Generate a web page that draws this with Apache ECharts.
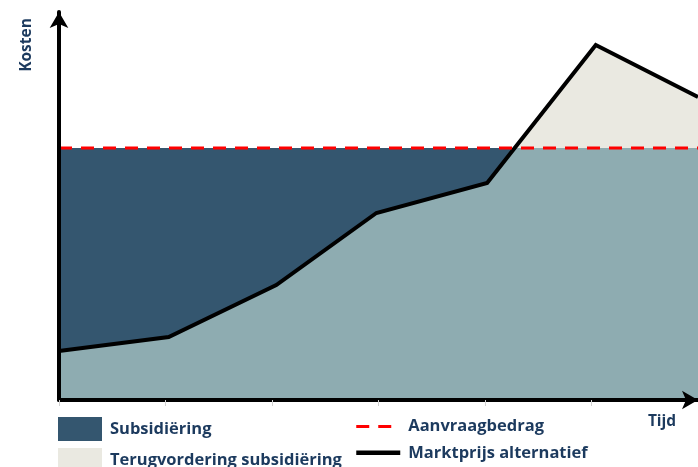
<!DOCTYPE html>
<html>
<head>
<meta charset="utf-8">
<script src="https://cdn.jsdelivr.net/npm/echarts@6/dist/echarts.min.js"></script>
<style>
  html, body { margin: 0; padding: 0; background: #fff; }
  #chart { width: 698px; height: 467px; }
</style>
</head>
<body>
<div id="chart"></div>
<script>
// time points and market price of the alternative (arbitrary units)
var tijd = [0, 1.03, 2.04, 2.98, 4.02, 5.04, 6];
var marktprijs = [49, 63, 115, 187, 217, 355, 303];
// requested amount (flat)
var aanvraagTijd = [0, 6];
var aanvraagbedrag = [252, 252];

var navy = '#1c3a5e';
var font = 'Open Sans';
var noSymbol = { color: 'rgba(0,0,0,0)', borderWidth: 0, opacity: 0 };

function pairs(xs, ys) {
  var out = [];
  for (var i = 0; i < xs.length; i++) out.push([xs[i], ys[i]]);
  return out;
}

var chart = echarts.init(document.getElementById('chart'));

var options = {
  backgroundColor: '#fff',
  animation: false,
  grid: { left: 59, right: 0, top: 12, bottom: 67 },
  xAxis: {
    type: 'value',
    min: 0,
    max: 6,
    interval: 1,
    z: 10,
    axisLine: {
      show: true,
      lineStyle: { color: '#000', width: 4 },
      symbol: ['none', 'arrow'],
      symbolSize: [14, 16]
    },
    axisTick: { show: true, length: 6, lineStyle: { color: '#d0d0d0', width: 1 } },
    axisLabel: { show: false },
    splitLine: { show: false }
  },
  yAxis: {
    type: 'value',
    min: 0,
    max: 388,
    z: 10,
    axisLine: {
      show: true,
      lineStyle: { color: '#000', width: 4 },
      symbol: ['none', 'arrow'],
      symbolSize: [14, 16]
    },
    axisTick: { show: false },
    axisLabel: { show: false },
    splitLine: { show: false }
  },
  visualMap: {
    show: false,
    type: 'piecewise',
    seriesIndex: 1,
    dimension: 1,
    pieces: [
      { min: -1000, max: aanvraagbedrag[0], color: '#8eacb1' },
      { min: aanvraagbedrag[0], max: 10000, color: '#eae9e1' }
    ]
  },
  legend: [
    {
      orient: 'vertical',
      left: 58,
      top: 417,
      height: 80,
      padding: 0,
      itemWidth: 44,
      itemHeight: 24,
      itemGap: 7,
      textStyle: { color: navy, fontSize: 16.5, fontWeight: 'bold', fontFamily: font, padding: [0, 0, 0, 3] },
      data: [
        { name: 'Subsidiëring', icon: 'rect', itemStyle: { color: '#34566f', borderWidth: 0 } },
        { name: 'Terugvordering subsidiëring', icon: 'rect', itemStyle: { color: '#eae9e1', borderWidth: 0 } }
      ]
    },
    {
      orient: 'vertical',
      left: 354,
      top: 417,
      height: 80,
      padding: 0,
      itemWidth: 44,
      itemHeight: 24,
      itemGap: 7,
      textStyle: { color: navy, fontSize: 16.5, fontWeight: 'bold', fontFamily: font, padding: [0, 0, 0, 3] },
      data: [
        { name: 'Aanvraagbedrag', itemStyle: noSymbol, lineStyle: { width: 3, color: '#ff0000', type: [13, 9] } },
        { name: 'Marktprijs alternatief', itemStyle: noSymbol, lineStyle: { width: 4.5, color: '#000' } }
      ]
    }
  ],
  graphic: [
    {
      type: 'text',
      x: 27,
      y: 45,
      rotation: Math.PI / 2,
      style: { text: 'Kosten', fill: navy, font: 'bold 15.5px "Open Sans"', align: 'center', verticalAlign: 'middle' }
    },
    {
      type: 'text',
      x: 662,
      y: 422,
      style: { text: 'Tijd', fill: navy, font: 'bold 15.5px "Open Sans"', align: 'center', verticalAlign: 'middle' }
    }
  ],
  series: [
    {
      name: 'Subsidiëring',
      type: 'line',
      color: '#34566f',
      symbol: 'none',
      lineStyle: { width: 0 },
      areaStyle: { color: '#34566f', opacity: 1 },
      data: pairs(aanvraagTijd, aanvraagbedrag),
      z: 1
    },
    {
      name: 'markt-vlak',
      type: 'line',
      symbol: 'none',
      lineStyle: { width: 0 },
      areaStyle: { opacity: 1 },
      data: pairs(tijd, marktprijs),
      z: 2
    },
    {
      name: 'Marktprijs alternatief',
      type: 'line',
      color: '#000',
      symbol: 'none',
      lineStyle: { color: '#000', width: 4, join: 'miter' },
      data: pairs(tijd, marktprijs),
      z: 4
    },
    {
      name: 'Aanvraagbedrag',
      type: 'line',
      color: '#ff0000',
      symbol: 'none',
      lineStyle: { color: '#ff0000', width: 3, type: [13, 9] },
      data: pairs(aanvraagTijd, aanvraagbedrag),
      z: 5
    },
    {
      name: 'Terugvordering subsidiëring',
      type: 'line',
      color: '#eae9e1',
      symbol: 'none',
      data: []
    }
  ]
};

chart.setOption(options);
</script>
</body>
</html>
